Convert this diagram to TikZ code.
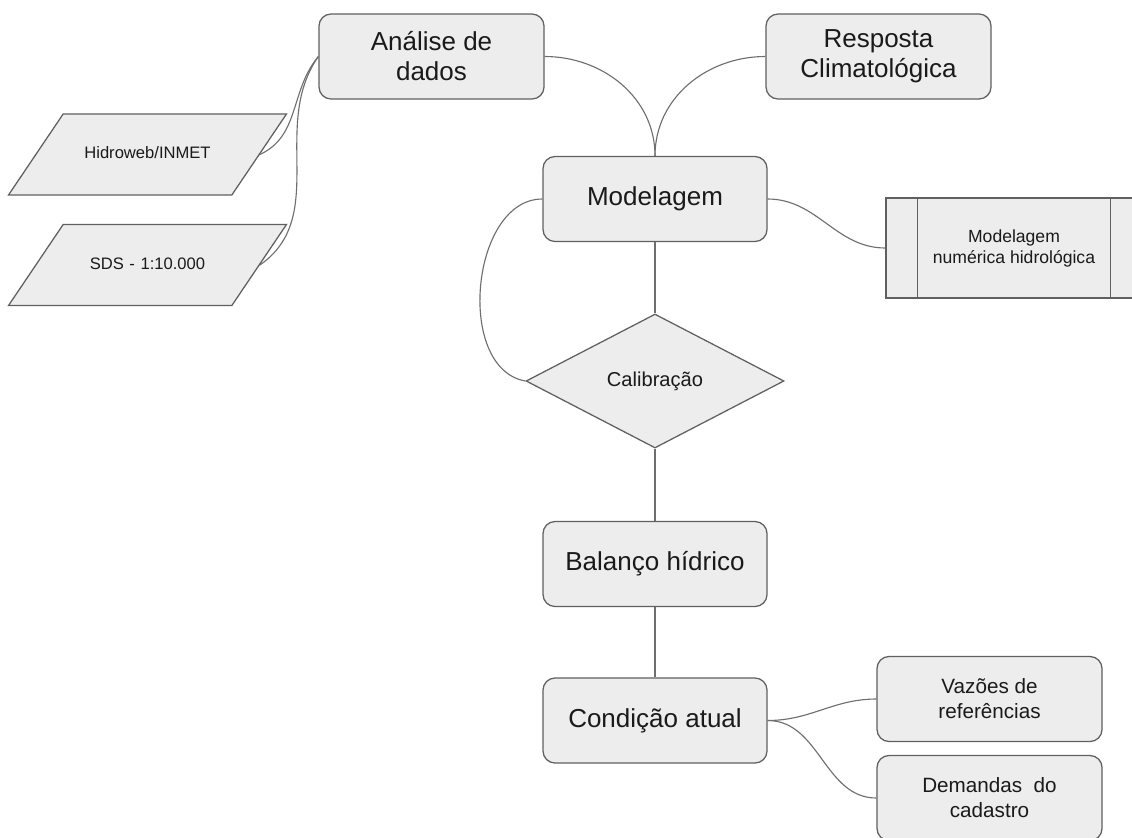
\documentclass[tikz,border=0pt]{standalone}
\usepackage{fontspec}
\setmainfont{Liberation Sans}
\usetikzlibrary{shapes,positioning}
\definecolor{caixa}{HTML}{EDEDED}
\definecolor{borda}{HTML}{606060}
\definecolor{ligacao}{HTML}{6E6E6E}
\definecolor{texto}{HTML}{1A1A1A}

\begin{document}
\begin{tikzpicture}
  %% FLUXOGRAMA
  \useasboundingbox (0,0) rectangle (28.3,-20.925);

  \tikzstyle{every edge}=[-,draw=ligacao,line width=0.8pt]
  \tikzstyle{every node}=[fill=caixa,draw=borda,line width=0.9pt,text=texto,align=center]
  \tikzstyle{etapa}=[rounded corners=0.3cm,minimum width=5.6cm,minimum height=2.125cm,
    font=\fontsize{18.5}{21.3}\selectfont]
  \tikzstyle{saida}=[etapa,minimum width=5.625cm,font=\fontsize{14.7}{17.8}\selectfont]
  \tikzstyle{dado}=[trapezium,trapezium left angle=56,trapezium right angle=124,
    text width=90pt,text height=8.5pt,text depth=2.5pt,inner xsep=15pt,inner ysep=23.3pt,
    font=\fontsize{11.8}{14}\selectfont]
  \tikzstyle{decisao}=[diamond,aspect=1.9,minimum width=6.45cm,minimum height=3.35cm,
    inner sep=0pt,font=\fontsize{14.3}{16}\selectfont]
  \tikzstyle{processo}=[rectangle,minimum width=6.4cm,minimum height=2.5cm,
    font=\fontsize{12.5}{15}\selectfont]

  % linha principal
  \node[etapa,minimum width=5.625cm] (ana) at (10.7875,-1.4125) {Análise de\\dados};
  \node[etapa,minimum width=5.625cm] (resp) at (21.9625,-1.4125) {Resposta\\Climatológica};
  \node[etapa] (model) at (16.375,-4.975) {Modelagem};
  \node[decisao] (calib) at (16.375,-9.525) {Calibração};
  \node[etapa] (bal) at (16.375,-14.1) {Balanço hídrico};
  \node[etapa] (cond) at (16.375,-18.0125) {Condição atual};

  % entradas
  \node[dado] (hidro) at (3.6875,-3.8625) {Hidroweb/INMET};
  \node[dado] (sds) at (3.6875,-6.625) {SDS - 1:10.000};

  % processo predefinido
  \node[processo] (num) at (25.35,-6.2) {Modelagem\\numérica hidrológica};
  \draw[borda,line width=0.9pt] ([xshift=0.8cm]num.north west) -- ([xshift=0.8cm]num.south west)
    ([xshift=-0.8cm]num.north east) -- ([xshift=-0.8cm]num.south east);

  % saidas
  \node[saida] (vaz) at (24.7375,-17.475) {Vazões de\\referências};
  \node[saida] (dem) at (24.7375,-19.95) {Demandas\ \ do\\cadastro};

  \path (ana) edge [out=0,in=90] (model.north)
  (resp) edge [out=180,in=90] (model.north)
  (hidro.east) edge [out=25,in=230] (ana.west)
  (sds.east) edge [out=35,in=235] (ana.west)
  (model.west) edge [out=180,in=170] (calib.west)
  (model.east) edge [out=0,in=180] (num.west)
  (model) edge (calib)
  (calib) edge (bal)
  (bal) edge (cond)
  (cond.east) edge [out=0,in=180] (vaz.west)
  (cond.east) edge [out=0,in=180] (dem.west);
\end{tikzpicture}
\end{document}
